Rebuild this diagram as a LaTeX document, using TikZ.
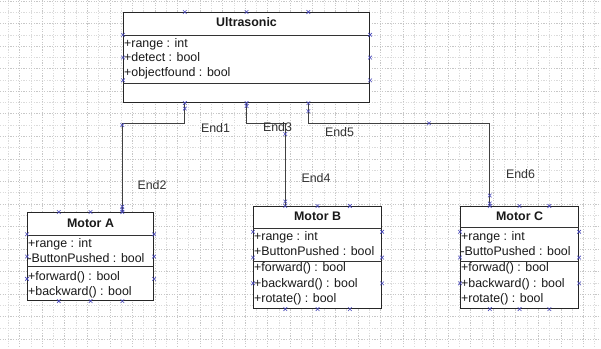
\documentclass[tikz,border=0pt]{standalone}
\usepackage{fontspec}
\setmainfont{Liberation Sans}
\usetikzlibrary{calc}
\begin{document}
\begin{tikzpicture}[x=1pt,y=-1pt,
  every node/.style={font=\fontsize{12.4}{14.6}\selectfont, inner sep=0pt, text=black!90},
  classbox/.style={draw=black!85, line width=1.1pt, fill=white, anchor=north west},
  sepline/.style={draw=black!80, line width=0.9pt},
  classtitle/.style={font=\fontsize{12.4}{14.6}\selectfont\bfseries, anchor=base},
  member/.style={anchor=base west},
  link/.style={draw=black!75, line width=0.9pt},
  endlabel/.style={text=black!80},
  gridmajor/.style={draw=black!22, line width=0.6pt, dash pattern=on 1.2pt off 1.4pt},
  gridminor/.style={draw=black!14, line width=0.6pt, dash pattern=on 1.2pt off 1.4pt},
  xm/.style={draw=blue!45!gray, line width=0.6pt},
  xmark/.pic={\draw[xm] (-1.8,-1.8) -- (1.8,1.8) (-1.8,1.8) -- (1.8,-1.8);}]

% canvas and page grid
\fill[white] (0,0) rectangle (601,348);
\useasboundingbox (0,0) rectangle (601,348);
\foreach \i in {0,...,26} {
  \pgfmathsetmacro\gx{8.3+22.55*\i}
  \draw[gridminor] (\gx,0) -- (\gx,348);
  \pgfmathsetmacro\gx{19.6+22.55*\i}
  \draw[gridmajor] (\gx,0) -- (\gx,348);
}
\foreach \i in {0,...,15} {
  \pgfmathsetmacro\gy{12.3+22.55*\i}
  \draw[gridminor] (0,\gy) -- (601,\gy);
  \pgfmathsetmacro\gy{1+22.55*\i}
  \draw[gridmajor] (0,\gy) -- (601,\gy);
}

% class boxes
\node[classbox, minimum width=246pt, minimum height=90pt]  (us) at (123,12)  {};
\node[classbox, minimum width=126pt, minimum height=88pt]  (ma) at (27,212)  {};
\node[classbox, minimum width=128pt, minimum height=102pt] (mb) at (253,206) {};
\node[classbox, minimum width=118pt, minimum height=102pt] (mc) at (460,206) {};

% compartment separators
\draw[sepline] ($(us.north west)+(0,23)$) -- ($(us.north east)+(0,23)$);
\draw[sepline] ($(us.north west)+(0,71)$) -- ($(us.north east)+(0,71)$);
\draw[sepline] ($(ma.north west)+(0,23)$) -- ($(ma.north east)+(0,23)$);
\draw[sepline] ($(ma.north west)+(0,54.7)$) -- ($(ma.north east)+(0,54.7)$);
\draw[sepline] ($(mb.north west)+(0,22)$) -- ($(mb.north east)+(0,22)$);
\draw[sepline] ($(mb.north west)+(0,55)$) -- ($(mb.north east)+(0,55)$);
\draw[sepline] ($(mc.north west)+(0,21)$) -- ($(mc.north east)+(0,21)$);
\draw[sepline] ($(mc.north west)+(0,55)$) -- ($(mc.north east)+(0,55)$);

% connectors
\coordinate (rail) at (0,123.3);
\coordinate (e1) at ($(us.south west)!0.25!(us.south east)$);
\coordinate (e3) at ($(us.south west)!0.5!(us.south east)$);
\coordinate (e5) at ($(us.south west)!0.75!(us.south east)$);
\coordinate (e2) at ($(ma.north west)!0.75!(ma.north east)$);
\coordinate (e4) at ($(mb.north west)!0.25!(mb.north east)$);
\coordinate (e6) at ($(mc.north west)!0.25!(mc.north east)$);
\draw[link] (e1) -- (e1 |- rail) -- (e2 |- rail) -- (e2);
\draw[link] (e3) -- (e3 |- rail) -- (e4 |- rail) -- (e4);
\draw[link] (e5) -- (e5 |- rail) -- (e6 |- rail) -- (e6);

% titles
\node[classtitle] (ust) at ($(us.north)+(0,14.7)$) {Ultrasonic};
\node[classtitle] (mat) at ($(ma.north)+(0,15.3)$) {Motor A};
\node[classtitle] (mbt) at ($(mb.north)+(0,14)$) {Motor B};
\node[classtitle] (mct) at ($(mc.north)+(0,14)$) {Motor C};

% members
\node[member] (us1) at ($(us.north west)+(1,35.5)$) {+range : int};
\node[member] (us2) at ($(us.north west)+(1,49.9)$) {+detect : bool};
\node[member] (us3) at ($(us.north west)+(1,64.5)$) {+objectfound : bool};

\node[member] (ma1) at ($(ma.north west)+(1,35.7)$) {+range : int};
\node[member] (ma2) at ($(ma.north west)+(0.3,50.5)$) {-ButtonPushed : bool};
\node[member] (ma3) at ($(ma.north west)+(1,68.7)$) {+forward() : bool};
\node[member] (ma4) at ($(ma.north west)+(1,83)$) {+backward() : bool};

\node[member] (mb1) at ($(mb.north west)+(1,34.7)$) {+range : int};
\node[member] (mb2) at ($(mb.north west)+(1,49)$) {+ButtonPushed : bool};
\node[member] (mb3) at ($(mb.north west)+(1,65.7)$) {+forward() : bool};
\node[member] (mb4) at ($(mb.north west)+(1,81)$) {+backward() : bool};
\node[member] (mb5) at ($(mb.north west)+(1,96)$) {+rotate() : bool};

\node[member] (mc1) at ($(mc.north west)+(1,34.7)$) {+range : int};
\node[member] (mc2) at ($(mc.north west)+(0.3,49)$) {-ButtoPushed : bool};
\node[member] (mc3) at ($(mc.north west)+(1,65.7)$) {+forwad() : bool};
\node[member] (mc4) at ($(mc.north west)+(1,81)$) {+backward() : bool};
\node[member] (mc5) at ($(mc.north west)+(1,96)$) {+rotate() : bool};

% association end labels
\node[endlabel] (l1) at (215.5,128.5) {End1};
\node[endlabel] (l2) at (152,185.5)   {End2};
\node[endlabel] (l3) at (277.5,127.5) {End3};
\node[endlabel] (l4) at (316,178)     {End4};
\node[endlabel] (l5) at (339.5,131.7) {End5};
\node[endlabel] (l6) at (520.5,174)   {End6};

% connection points on the shape borders
\foreach \n in {us,ma,mb,mc} {
  \foreach \t in {0.25,0.5,0.75} {
    \pic at ($(\n.north west)!\t!(\n.north east)$) {xmark};
    \pic at ($(\n.south west)!\t!(\n.south east)$) {xmark};
    \pic at ($(\n.north west)!\t!(\n.south west)$) {xmark};
    \pic at ($(\n.north east)!\t!(\n.south east)$) {xmark};
  }
}
% connector handles
\pic at ($(e1)+(0,5.5)$) {xmark};
\pic at ($(e2 |- rail)+(0,1.7)$) {xmark};
\pic at ($(e2)+(0,-5.5)$) {xmark};
\pic at ($(e2)+(0,-2.3)$) {xmark};
\pic at ($(e3)+(0,3)$) {xmark};
\pic at ($(e4 |- rail)+(0,10.7)$) {xmark};
\pic at ($(e4)+(0,-4.5)$) {xmark};
\pic at ($(e5)+(0,8)$) {xmark};
\pic at (429,123.3) {xmark};
\pic at ($(e6)+(0,-10.5)$) {xmark};
\pic at ($(e6)+(0,-2.5)$) {xmark};
\end{tikzpicture}
\end{document}
